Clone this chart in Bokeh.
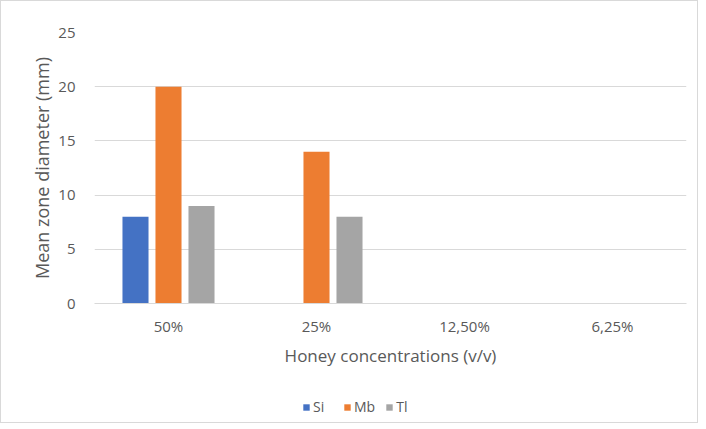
from bokeh.plotting import figure
from bokeh.models import ColumnDataSource, FactorRange, Legend, LegendItem, SingleIntervalTicker, Range1d
from bokeh.layouts import column
from bokeh.transform import dodge
from bokeh.embed import file_html
from bokeh.resources import INLINE

categories = ["50%", "25%", "12,50%", "6,25%"]
si = [8, 0, 0, 0]
mb = [20, 14, 0, 0]
tl = [9, 8, 0, 0]
series_names = ["Si", "Mb", "Tl"]
colors = ["#4472C4", "#ED7D31", "#A5A5A5"]

src = ColumnDataSource(data=dict(cat=categories, Si=si, Mb=mb, Tl=tl))

FONT = "Open Sans"
TXT = "#595959"
offsets = [-0.223, 0.0, 0.223]

p = figure(
    x_range=FactorRange(*categories, range_padding=0),
    y_range=(0, 25),
    width=696, height=372,
    output_backend="svg", toolbar_location=None,
    min_border_left=93, min_border_right=11, min_border_top=31, min_border_bottom=70,
)

for name, col, off in zip(series_names, colors, offsets):
    p.vbar(x=dodge("cat", off, range=p.x_range), top=name, width=0.176,
           source=src, fill_color=col, line_color=None)

p.outline_line_color = None
p.xgrid.grid_line_color = None
p.ygrid.grid_line_color = "#D9D9D9"
p.ygrid.grid_line_width = 1

p.yaxis.ticker = SingleIntervalTicker(interval=5)
p.yaxis.axis_line_color = None
p.yaxis.major_tick_line_color = None
p.yaxis.minor_tick_line_color = None
p.yaxis.major_label_standoff = 13
p.yaxis.major_label_text_font = FONT
p.yaxis.major_label_text_font_size = "15px"
p.yaxis.major_label_text_color = TXT
p.yaxis.axis_label = "Mean zone diameter (mm)"
p.yaxis.axis_label_text_font = FONT
p.yaxis.axis_label_text_font_size = "18px"
p.yaxis.axis_label_text_font_style = "normal"
p.yaxis.axis_label_text_color = TXT
p.yaxis.axis_label_standoff = 1

p.xaxis.axis_line_color = "#D9D9D9"
p.xaxis.major_tick_line_color = None
p.xaxis.minor_tick_line_color = None
p.xaxis.major_label_standoff = 6
p.xaxis.major_label_text_font = FONT
p.xaxis.major_label_text_font_size = "15px"
p.xaxis.major_label_text_color = TXT
p.xaxis.axis_label = "Honey concentrations (v/v)"
p.xaxis.axis_label_text_font = FONT
p.xaxis.axis_label_text_font_size = "17px"
p.xaxis.axis_label_text_font_style = "normal"
p.xaxis.axis_label_text_color = TXT
p.xaxis.axis_label_standoff = 5

# legend strip below the chart (same series, bars kept out of its view)
leg = figure(
    width=696, height=49,
    x_range=FactorRange(*categories, range_padding=0), y_range=Range1d(100, 101),
    output_backend="svg", toolbar_location=None,
    x_axis_type=None, y_axis_type=None,
    min_border=0,
)
leg.outline_line_color = None
leg.grid.visible = False
swatches = []
for name, col, off in zip(series_names, colors, offsets):
    swatches.append(leg.vbar(x=dodge("cat", off, range=leg.x_range), top=name, width=0.176,
                             source=src, fill_color=col, line_color=None))

legend = Legend(
    items=[LegendItem(label=n, renderers=[r]) for n, r in zip(series_names, swatches)],
    orientation="horizontal",
    location=(208, 6),
    label_text_font=FONT,
    label_text_font_size="14px",
    label_text_color=TXT,
    glyph_width=8, glyph_height=8,
    label_standoff=3, spacing=10, padding=0, margin=0,
    border_line_color=None, background_fill_alpha=0,
)
leg.add_layout(legend, "center")

layout = column(p, leg, spacing=0, styles={"border": "1px solid #D9D9D9"})

open("out.html", "w").write(file_html(layout, INLINE))
